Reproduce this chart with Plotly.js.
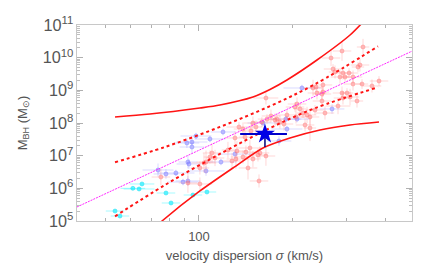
<!DOCTYPE html>
<html><head><meta charset="utf-8">
<script src="https://cdn.plot.ly/plotly-3.0.1.min.js"></script>
<style>html,body{margin:0;padding:0;background:#fff}#plot{width:436px;height:273px}</style>
</head><body><div id="plot"></div>
<script>
// ---- data (velocity dispersion in km/s, black-hole mass in solar masses) ----
const redSigma = [75.3, 92.1, 100.7, 105.4, 108.5, 110.2, 112.7, 103.8, 100.7, 127.9,
 131.7, 138.8, 144.1, 149.5, 157.5, 164.7, 146.2, 141.9, 132.7, 140.9,
 134.7, 138.8, 147.3, 152.9, 166.0, 171.0, 156.4, 164.7, 178.8, 182.8,
 188.4, 204.5, 212.3, 223.7, 237.4, 228.7, 207.6, 217.1, 206.0, 228.7,
 255.7, 281.8, 250.0, 324.6, 292.4, 308.2, 301.3, 290.3, 250.0, 251.9,
 240.9, 233.9, 239.2, 251.9, 315.1, 337.0, 362.9, 382.4, 286.0, 296.9,
 315.1, 271.5, 275.5, 292.4, 305.9, 331.9, 327.0, 267.5, 290.3, 339.5,
 192.6, 176.2, 159.8, 149.5, 130.8, 124.1, 155.2, 220.4];
const redM = [2.22e6, 1.46e6, 1.36e6, 6.4e6, 9.1e6, 1.21e7, 8.5e6, 5.97e6, 4.2e6, 6.87e6,
 7.9e6, 9.1e6, 4.2e6, 7.9e6, 1.21e7, 9.77e6, 1.72e7, 1.29e7, 1.39e7, 3.72e7,
 7.55e7, 6.55e7, 5.69e7, 7.55e7, 1.32e8, 1.64e8, 1.68e6, 5.82e8, 1.32e8, 1.07e8,
 9.3e7, 3.09e8, 2.69e8, 1.76e8, 2.5e8, 7.03e7, 3.82e8, 2.02e8, 1.53e8, 1.53e8,
 2.02e8, 3.31e8, 4.71e8, 4.71e8, 5.82e8, 6.25e8, 8.28e8, 8.28e8, 7.73e8, 8.89e8,
 8.28e8, 1.18e9, 1.26e9, 1.46e9, 1.56e9, 1.56e9, 1.36e9, 1.93e9, 2.56e9, 2.56e9,
 2.56e9, 4.5e9, 3.64e9, 3.39e9, 3.39e9, 5.96e9, 5.18e9, 9.77e9, 1.6e10, 2.12e10,
 1.76e8, 1.24e8, 1.07e8, 1.0e8, 3.48e7, 1.49e7, 1.05e7, 8.7e7];
// errors in dex
const redSigErr = [0.03,0.03,0.04,0.03,0.02,0.03,0.03,0.04,0.03,0.03,
 0.03,0.04,0.03,0.02,0.03,0.03,0.04,0.03,0.03,0.02,
 0.04,0.03,0.03,0.02,0.03,0.03,0.03,0.04,0.03,0.02,
 0.03,0.03,0.02,0.03,0.03,0.02,0.03,0.02,0.03,0.03,
 0.03,0.04,0.03,0.02,0.03,0.03,0.02,0.03,0.03,0.02,
 0.03,0.03,0.02,0.03,0.03,0.02,0.03,0.03,0.03,0.02,
 0.03,0.03,0.02,0.03,0.03,0.03,0.02,0.03,0.03,0.02,
 0.03,0.02,0.03,0.03,0.03,0.02,0.03,0.03];
const redMErr = [0.25,0.3,0.2,0.35,0.2,0.3,0.25,0.3,0.2,0.25,
 0.3,0.2,0.35,0.25,0.2,0.3,0.25,0.2,0.3,0.2,
 0.15,0.2,0.25,0.2,0.15,0.2,0.2,0.2,0.15,0.2,
 0.2,0.15,0.2,0.25,0.15,0.4,0.2,0.15,0.2,0.25,
 0.2,0.25,0.15,0.2,0.2,0.25,0.15,0.2,0.2,0.15,
 0.2,0.25,0.15,0.2,0.2,0.15,0.2,0.15,0.2,0.15,
 0.2,0.15,0.2,0.2,0.15,0.2,0.15,0.25,0.3,0.25,
 0.15,0.2,0.15,0.2,0.2,0.25,0.2,0.2];

const blueSigma = [73.7, 78.2, 84.2, 88.8, 92.1, 92.1, 92.8, 97.8, 91.4, 94.9, 94.9, 105.4,
 108.5, 119.6, 130.8, 117.8, 181.5, 191.2, 207.6, 161.1, 215.4, 269.5, 192.6];
const blueM = [3.64e6, 2.75e6, 2.95e6, 1.56e6, 1.68e6, 6.4e6, 5.56e6, 4.0e7, 2.44e7, 2.62e7, 1.84e7, 3.4e6,
 3.24e7, 5.31e7, 1.12e7, 6.4e6, 2.81e7, 1.32e8, 1.32e8, 1.0e8, 1.18e9, 2.69e8, 6.55e7];
const blueSigErr = [0.05,0.04,0.06,0.05,0.04,0.03,0.04,0.05,0.04,0.05,0.04,0.06,
 0.05,0.04,0.06,0.05,0.04,0.05,0.04,0.05,0.06,0.04,0.05];
const blueMErr = [0.2,0.15,0.1,0.1,0.15,0.2,0.15,0.1,0.15,0.1,0.2,0.15,
 0.1,0.1,0.15,0.1,0.15,0.1,0.1,0.1,0.1,0.15,0.1];

const cyanSigma = [53.5, 55.5, 61.1, 64.0, 65.4, 78.2, 81.2, 95.6, 106.1];
const cyanM = [2.02e5, 1.42e5, 1.0e6, 9.55e5, 1.36e6, 7.19e5, 3.56e5, 6.25e5, 7.73e5];
const cyanSigErr = [0.03,0.03,0.04,0.05,0.04,0.03,0.03,0.03,0.03];
const cyanMErr = [0.05,0.05,0.05,0.05,0.05,0.05,0.05,0.05,0.05];

// fitted relation and bands
const fitSigma = [40.3, 489];
const fitM = [2.69e5, 1.58e10];
const bandSigma = [53.5, 77.6, 116.9, 169.7, 237.4, 379.6];
const bandUpperM = [6.27e6, 1.84e7, 7.6e7, 3.29e8, 1.54e9, 2.23e10];
const bandLowerM = [1.39e5, 1.26e6, 1.13e7, 6.98e7, 2.84e8, 1.24e9];
const envUpperSigma = [53.5, 69.4, 100.7, 116.9, 149.5, 169.7, 192.6, 240.9, 308.2, 337.0];
const envUpperM = [1.53e8, 1.88e8, 2.88e8, 3.56e8, 6.25e8, 1.06e9, 2.07e9, 8.47e9, 4.94e10, 1.15e11];
const envLowerSigma = [70, 75.9, 100.7, 128.8, 161.1, 197, 246.4, 308.2, 382.4];
const envLowerM = [5.0e4, 1.0e5, 8.3e5, 4.2e6, 1.72e7, 3.48e7, 6.11e7, 8.69e7, 1.07e8];

// highlighted object
const starSigma = [163.5];
const starM = [4.6e7];
const starSigLo = [27.6], starSigHi = [29.1];
const starMLo = [2.76e7], starMHi = [2.95e7];

// x tick labels
const xTickVals = [100];
const xTickText = ['100'];
const xMinorVals = [40, 50, 60, 70, 80, 90, 200, 300, 400];

function errX(s, d, color) {
  return {type:'data', symmetric:false, color:color, thickness:1, width:0,
    array: s.map((v,i)=>v*(Math.pow(10,d[i])-1)),
    arrayminus: s.map((v,i)=>v*(1-Math.pow(10,-d[i])))};
}
function errY(m, d, color) { return errX(m, d, color); }

const traces = [
  {x: cyanSigma, y: cyanM, mode:'markers', type:'scatter',
   marker:{size:4, color:'rgba(0,235,255,0.5)', line:{width:0.8, color:'rgba(0,220,240,0.6)'}},
   error_x: errX(cyanSigma, cyanSigErr, 'rgba(0,240,255,0.35)'),
   error_y: errY(cyanM, cyanMErr, 'rgba(0,240,255,0.35)')},
  {x: blueSigma, y: blueM, mode:'markers', type:'scatter',
   marker:{size:4, color:'rgba(130,130,255,0.4)', line:{width:0.8, color:'rgba(100,100,255,0.5)'}},
   error_x: errX(blueSigma, blueSigErr, 'rgba(150,150,255,0.35)'),
   error_y: errY(blueM, blueMErr, 'rgba(150,150,255,0.35)')},
  {x: redSigma, y: redM, mode:'markers', type:'scatter',
   marker:{size:4, color:'rgba(255,130,130,0.4)', line:{width:0.8, color:'rgba(255,90,90,0.45)'}},
   error_x: errX(redSigma, redSigErr, 'rgba(255,140,140,0.35)'),
   error_y: errY(redM, redMErr, 'rgba(255,140,140,0.35)')},
  {x: fitSigma, y: fitM, mode:'lines', type:'scatter',
   line:{color:'rgb(255,40,255)', width:1, dash:'2px,1px'}},
  {x: bandSigma, y: bandUpperM, mode:'lines', type:'scatter',
   line:{color:'rgb(255,20,20)', width:2, dash:'dot', shape:'spline'}},
  {x: bandSigma, y: bandLowerM, mode:'lines', type:'scatter',
   line:{color:'rgb(255,20,20)', width:2, dash:'dot', shape:'spline'}},
  {x: envUpperSigma, y: envUpperM, mode:'lines', type:'scatter',
   line:{color:'rgb(255,20,20)', width:1.6, shape:'spline', smoothing:0.8}},
  {x: envLowerSigma, y: envLowerM, mode:'lines', type:'scatter',
   line:{color:'rgb(255,20,20)', width:1.6, shape:'spline', smoothing:0.8}},
  {x: starSigma, y: starM, mode:'markers', type:'scatter',
   marker:{symbol:'star', size:15, color:'rgb(0,0,230)'},
   error_x:{type:'data', symmetric:false, array:starSigHi, arrayminus:starSigLo, color:'rgb(0,0,200)', thickness:2, width:0},
   error_y:{type:'data', symmetric:false, array:starMHi, arrayminus:starMLo, color:'rgb(0,0,120)', thickness:1.5, width:0}}
];

const axisCommon = {showline:true, mirror:'ticks', linecolor:'#c8c8c8', linewidth:1,
  ticks:'inside', tickcolor:'#b0b0b0', showgrid:false, zeroline:false,
  tickfont:{family:'Liberation Sans, Arial, sans-serif', size:13, color:'#555'}};

const layout = {
  width:436, height:273, showlegend:false,
  paper_bgcolor:'#fff', plot_bgcolor:'#fff',
  margin:{l:77, r:24, t:25, b:52},
  font:{family:'Liberation Sans, Arial, sans-serif', color:'#555'},
  xaxis: Object.assign({}, axisCommon, {
    type:'log', range:[Math.log10(40.3), Math.log10(489)],
    tickmode:'array', tickvals:xTickVals, ticktext:xTickText, ticklen:6, ticklabelstandoff:3,
    minor:{tickmode:'array', tickvals:xMinorVals, ticks:'inside', ticklen:3, tickcolor:'#b0b0b0'},
    title:{text:'velocity dispersion <i>σ</i> (km/s)', standoff:8,
      font:{family:'Liberation Sans, Arial, sans-serif', size:13, color:'#555'}}
  }),
  yaxis: Object.assign({}, axisCommon, {
    type:'log', range:[5, 11], dtick:1, exponentformat:'power', ticklen:6,
    minor:{ticks:'inside', ticklen:3, tickcolor:'#c0c0c0', dtick:'D1'},
    title:{text:'M<sub>BH</sub> (M<sub>⊙</sub>)', standoff:12,
      font:{family:'Liberation Sans, Arial, sans-serif', size:13, color:'#555'}}
  })
};

Plotly.newPlot('plot', traces, layout, {displayModeBar:false, staticPlot:true});
</script></body></html>
